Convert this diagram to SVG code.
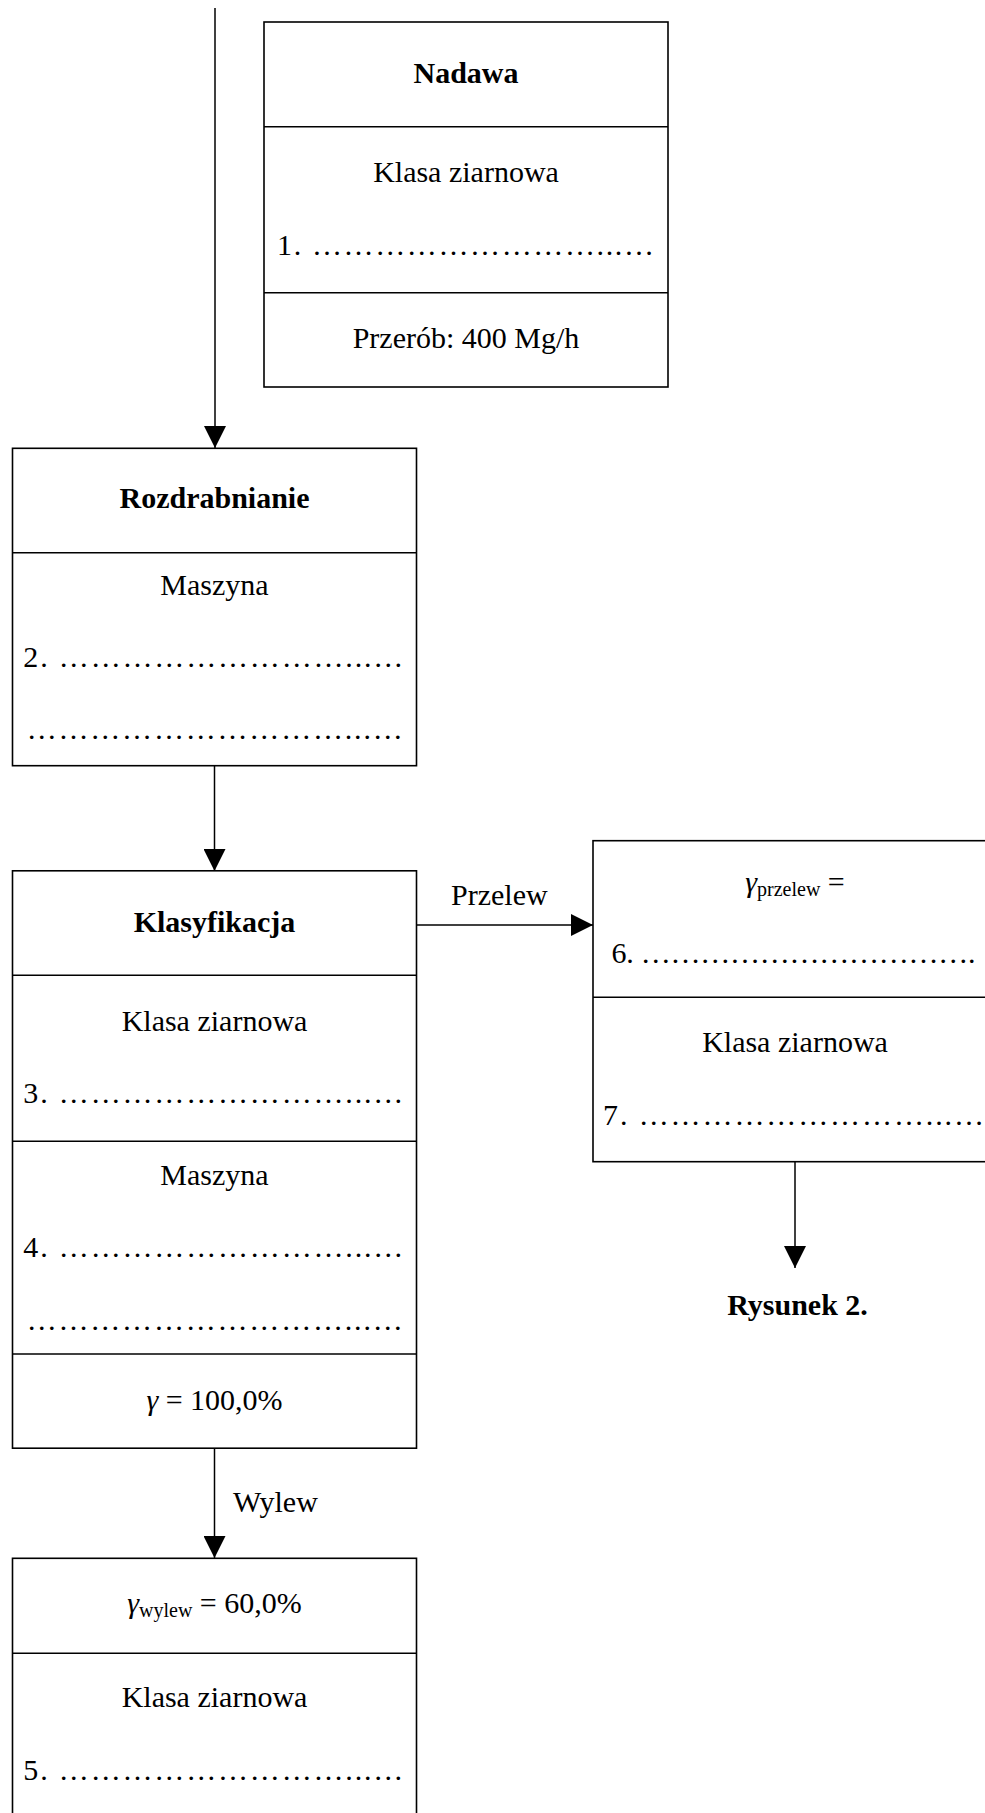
<svg xmlns="http://www.w3.org/2000/svg" width="985" height="1813" viewBox="0 0 985 1813">
<style>
  .box { fill: #ffffff; stroke: #000000; stroke-width: 1.6; }
  .div { stroke: #000000; stroke-width: 1.6; }
  .con { stroke: #000000; stroke-width: 1.5; fill: none; marker-end: url(#arrow); }
  text { font-family: "Liberation Serif", "Times New Roman", serif; font-size: 30px; fill: #000000; }
  .b { font-weight: bold; }
  .c { text-anchor: middle; }
  .g { font-style: italic; }
  .sub { font-size: 20px; }
</style>
<defs>
  <marker id="arrow" markerUnits="userSpaceOnUse" markerWidth="22" markerHeight="22" refX="22" refY="11" orient="auto">
    <path d="M0,0 L22,11 L0,22 Z" fill="#000000"/>
  </marker>
</defs>
<rect width="985" height="1813" fill="#ffffff"/>

<g id="connectors">
  <line class="con" x1="215" y1="8" x2="215" y2="448"/>
  <line class="con" x1="214.5" y1="766" x2="214.5" y2="871"/>
  <line class="con" x1="416.5" y1="925" x2="593" y2="925"/>
  <line class="con" x1="214.5" y1="1448" x2="214.5" y2="1558"/>
  <line class="con" x1="795" y1="1162" x2="795" y2="1268"/>
  <text x="451" y="905">Przelew</text>
  <text x="233" y="1512">Wylew</text>
</g>

<g id="nadawa">
  <rect class="box" x="264" y="22" width="404" height="365"/>
  <line class="div" x1="264" y1="126.7" x2="668" y2="126.7"/>
  <line class="div" x1="264" y1="292.7" x2="668" y2="292.7"/>
  <text class="c b" x="466" y="83">Nadawa</text>
  <text class="c" x="466" y="182">Klasa ziarnowa</text>
  <text x="277" y="255" textLength="377" lengthAdjust="spacing">1. ………………………...…</text>
  <text class="c" x="466" y="348">Przerób: 400 Mg/h</text>
</g>

<g id="rozdrabnianie">
  <rect class="box" x="12.5" y="448.3" width="404" height="317.4"/>
  <line class="div" x1="12.5" y1="552.7" x2="416.5" y2="552.7"/>
  <text class="c b" x="214.5" y="508.3">Rozdrabnianie</text>
  <text class="c" x="214.5" y="595">Maszyna</text>
  <text x="23.3" y="667.3" textLength="380" lengthAdjust="spacing">2. ………………………...…</text>
  <text x="26.7" y="739.3" textLength="376" lengthAdjust="spacing">…………………………...…</text>
</g>

<g id="klasyfikacja">
  <rect class="box" x="12.5" y="870.8" width="404" height="577.4"/>
  <line class="div" x1="12.5" y1="975.2" x2="416.5" y2="975.2"/>
  <line class="div" x1="12.5" y1="1141.3" x2="416.5" y2="1141.3"/>
  <line class="div" x1="12.5" y1="1354" x2="416.5" y2="1354"/>
  <text class="c b" x="214.5" y="932">Klasyfikacja</text>
  <text class="c" x="214.5" y="1031">Klasa ziarnowa</text>
  <text x="23.3" y="1103" textLength="380" lengthAdjust="spacing">3. ………………………...…</text>
  <text class="c" x="214.5" y="1184.5">Maszyna</text>
  <text x="23.3" y="1257" textLength="380" lengthAdjust="spacing">4. ………………………...…</text>
  <text x="26.7" y="1329.5" textLength="376" lengthAdjust="spacing">…………………………...…</text>
  <text class="c" x="214.5" y="1409.5"><tspan class="g">γ</tspan> = 100,0%</text>
</g>

<g id="przelew">
  <rect class="box" x="593" y="840.7" width="404" height="321"/>
  <line class="div" x1="593" y1="997.3" x2="997" y2="997.3"/>
  <text class="c" x="795" y="891.7"><tspan class="g">γ</tspan><tspan class="sub" dy="4">przelew</tspan><tspan dy="-4"> =</tspan></text>
  <text x="611.6" y="963.3" textLength="364" lengthAdjust="spacing">6. …………………………….</text>
  <text class="c" x="795" y="1051.7">Klasa ziarnowa</text>
  <text x="603" y="1125" textLength="381" lengthAdjust="spacing">7. ………………………...…</text>
</g>

<g id="rysunek">
  <text class="c b" x="797.5" y="1315">Rysunek 2.</text>
</g>

<g id="wylew">
  <rect class="box" x="12.5" y="1558.3" width="404" height="300"/>
  <line class="div" x1="12.5" y1="1653.3" x2="416.5" y2="1653.3"/>
  <text class="c" x="214.5" y="1613.3"><tspan class="g">γ</tspan><tspan class="sub" dy="4">wylew</tspan><tspan dy="-4"> = 60,0%</tspan></text>
  <text class="c" x="214.5" y="1706.7">Klasa ziarnowa</text>
  <text x="23.3" y="1780" textLength="380" lengthAdjust="spacing">5. ………………………...…</text>
</g>
</svg>
